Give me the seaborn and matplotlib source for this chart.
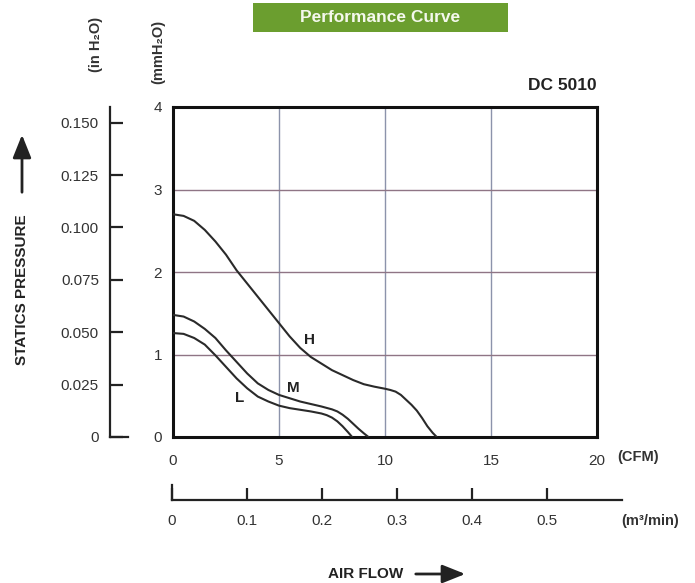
import pandas as pd
import matplotlib.pyplot as plt
import seaborn as sns
from matplotlib.patches import Rectangle, FancyArrowPatch

# Curve data (CFM vs mmH2O)
h_cfm = [0, 0.5, 1, 1.5, 2, 2.5, 3, 3.5, 4, 4.5, 5, 5.5, 6, 6.5, 7, 7.5, 8, 8.5, 9, 9.5,
         10, 10.25, 10.5, 10.75, 11, 11.25, 11.5, 11.75, 12, 12.25, 12.44]
h_p = [2.70, 2.68, 2.62, 2.51, 2.37, 2.21, 2.02, 1.86, 1.70, 1.54, 1.38, 1.22, 1.08, 0.97,
       0.89, 0.81, 0.75, 0.69, 0.64, 0.61, 0.585, 0.57, 0.55, 0.51, 0.45, 0.39, 0.32, 0.23,
       0.13, 0.05, 0.0]

m_cfm = [0, 0.5, 1, 1.5, 2, 2.5, 3, 3.5, 4, 4.5, 5, 5.5, 6, 6.5, 7, 7.5, 7.75, 8, 8.25,
         8.5, 8.75, 9, 9.22]
m_p = [1.48, 1.46, 1.40, 1.31, 1.20, 1.05, 0.91, 0.77, 0.65, 0.57, 0.51, 0.47, 0.43, 0.40,
       0.37, 0.335, 0.31, 0.27, 0.22, 0.16, 0.10, 0.045, 0.0]

l_cfm = [0, 0.5, 1, 1.5, 2, 2.5, 3, 3.5, 4, 4.5, 5, 5.5, 6, 6.5, 7, 7.25, 7.5, 7.75, 8,
         8.25, 8.45]
l_p = [1.26, 1.25, 1.20, 1.12, 0.99, 0.85, 0.71, 0.59, 0.49, 0.43, 0.38, 0.35, 0.33, 0.31,
       0.285, 0.265, 0.235, 0.19, 0.13, 0.06, 0.0]

cfm_ticks = [0, 5, 10, 15, 20]
mm_ticks = [0, 1, 2, 3, 4]
inh2o_ticks = [0, 0.025, 0.050, 0.075, 0.100, 0.125, 0.150]
inh2o_labels = ["0", "0.025", "0.050", "0.075", "0.100", "0.125", "0.150"]
m3_ticks = [0, 0.1, 0.2, 0.3, 0.4, 0.5]
m3_labels = ["0", "0.1", "0.2", "0.3", "0.4", "0.5"]

curves = pd.concat([
    pd.DataFrame({"cfm": h_cfm, "mmh2o": h_p, "speed": "H"}),
    pd.DataFrame({"cfm": m_cfm, "mmh2o": m_p, "speed": "M"}),
    pd.DataFrame({"cfm": l_cfm, "mmh2o": l_p, "speed": "L"}),
])

sns.set_style("white")
plt.rcParams['font.family'] = ['Liberation Sans', 'DejaVu Sans']

W, H = 695, 583
txt = "#333333"
fig = plt.figure(figsize=(W / 100, H / 100), dpi=100)


def fx(px):
    return px / W


def fy(py):
    return 1 - py / H


# main chart
ax = fig.add_axes([fx(173), fy(437), fx(597) - fx(173), fy(107) - fy(437)])
sns.lineplot(data=curves, x="cfm", y="mmh2o", hue="speed",
             palette={"H": "#2a2a2a", "M": "#2a2a2a", "L": "#2a2a2a"},
             sort=False, legend=False, lw=1.5, ax=ax, zorder=3)
ax.set_xlim(0, 20)
ax.set_ylim(0, 4)
ax.set_xticks(cfm_ticks)
ax.set_yticks(mm_ticks)
ax.tick_params(length=0, labelsize=11, labelcolor=txt)
ax.tick_params(axis="x", pad=12)
ax.tick_params(axis="y", pad=8)
ax.set_xlabel("")
ax.set_ylabel("")
for v in [5, 10, 15]:
    ax.axvline(v, color="#8c93ab", lw=1.0, zorder=1)
for v in [1, 2, 3]:
    ax.axhline(v, color="#8f7585", lw=1.0, zorder=1)
for s in ax.spines.values():
    s.set_visible(True)
    s.set_color("#111111")
    s.set_linewidth(2.2)

ax.text(6.46, 1.18, "H", fontsize=11, fontweight="bold", color="#222", ha="center", va="center")
ax.text(5.66, 0.60, "M", fontsize=11, fontweight="bold", color="#222", ha="center", va="center")
ax.text(3.16, 0.47, "L", fontsize=11, fontweight="bold", color="#222", ha="center", va="center")

# in H2O axis
ax2 = fig.add_axes([fx(110), fy(437), fx(128) - fx(110), fy(107) - fy(437)])
ax2.set_facecolor("none")
ax2.set_xlim(0, 1)
ax2.set_ylim(0, 4 / 25.4)
ax2.set_xticks([])
ax2.set_yticks(inh2o_ticks)
ax2.set_yticklabels(inh2o_labels)
ax2.tick_params(axis="y", direction="in", length=9.5, width=1.6, color="#222",
                labelsize=11, labelcolor=txt, pad=8, left=True)
for k in ["top", "right"]:
    ax2.spines[k].set_visible(False)
for k in ["left", "bottom"]:
    ax2.spines[k].set_visible(True)
    ax2.spines[k].set_color("#222")
    ax2.spines[k].set_linewidth(1.6)

# m3/min axis
ax3 = fig.add_axes([fx(172), fy(500), fx(622) - fx(172), fy(485) - fy(500)])
ax3.set_facecolor("none")
ax3.set_xlim(0, 0.6)
ax3.set_ylim(0, 1)
ax3.set_yticks([])
ax3.set_xticks(m3_ticks)
ax3.set_xticklabels(m3_labels)
ax3.tick_params(axis="x", direction="in", length=8.5, width=1.6, color="#222",
                labelsize=11, labelcolor=txt, pad=10, bottom=True)
for k in ["top", "right"]:
    ax3.spines[k].set_visible(False)
for k in ["left", "bottom"]:
    ax3.spines[k].set_visible(True)
    ax3.spines[k].set_color("#222")
    ax3.spines[k].set_linewidth(1.6)

# unit labels
fig.text(fx(638), fy(457), "(CFM)", fontsize=10.5, fontweight="bold", color=txt, ha="center", va="center")
fig.text(fx(650), fy(521), "(m³/min)", fontsize=10.5, fontweight="bold", color=txt, ha="center", va="center")
fig.text(fx(96), fy(44), "(in H₂O)", fontsize=10.5, fontweight="bold", color=txt,
         rotation=90, ha="center", va="center")
fig.text(fx(158), fy(52), "(mmH₂O)", fontsize=10.5, fontweight="bold", color=txt,
         rotation=90, ha="center", va="center")

# axis titles with arrows
arrow = "-|>,head_length=0.7,head_width=0.28"
fig.text(fx(22), fy(290), "STATICS PRESSURE", fontsize=11, fontweight="bold", color="#222",
         rotation=90, ha="center", va="center")
fig.patches.append(FancyArrowPatch(
    (fx(22), fy(195)), (fx(22), fy(132)), transform=fig.transFigure,
    arrowstyle=arrow, mutation_scale=20, lw=2.0, color="#222"))
fig.text(fx(366), fy(574), "AIR FLOW", fontsize=11, fontweight="bold", color="#222",
         ha="center", va="center")
fig.patches.append(FancyArrowPatch(
    (fx(413), fy(574)), (fx(468), fy(574)), transform=fig.transFigure,
    arrowstyle=arrow, mutation_scale=20, lw=2.0, color="#222"))

# title box and model
fig.patches.append(Rectangle((fx(253), fy(32)), fx(508) - fx(253), fy(3) - fy(32),
                             transform=fig.transFigure, facecolor="#6b9e2f", edgecolor="none"))
fig.text(fx(380), fy(18), "Performance Curve", fontsize=12.5, fontweight="bold", color="#f4f8ec",
         ha="center", va="center")
fig.text(fx(597), fy(86), "DC 5010", fontsize=12.5, fontweight="bold", color="#222",
         ha="right", va="center")

fig.savefig("out.png", dpi=100)
